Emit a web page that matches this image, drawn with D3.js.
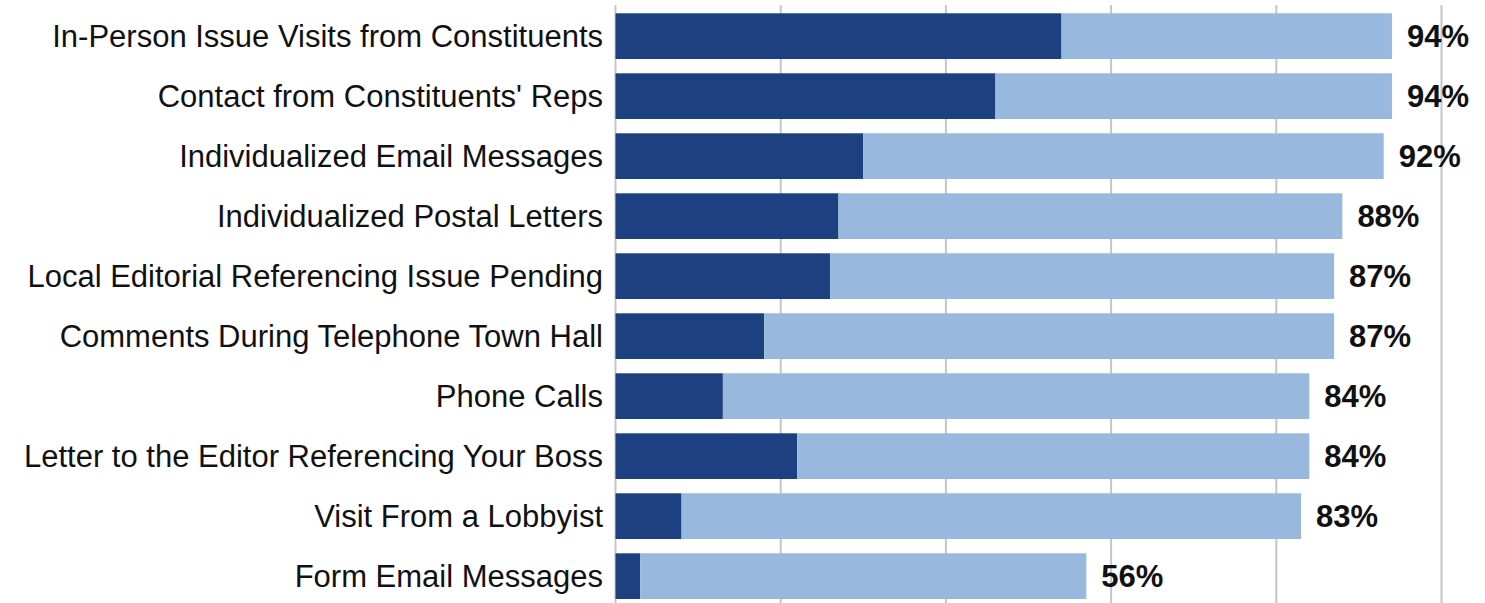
<html>
<head>
<script src="https://d3js.org/d3.v7.min.js"></script>
<style>
    body { margin: 0; background: #fff; }
    .cat { font-family: 'Liberation Sans', Arial, sans-serif; font-size: 31px; fill: #111; }
    .val { font-family: 'Liberation Sans', Arial, sans-serif; font-size: 31px; font-weight: bold; fill: #111; }
    .grid line { stroke: #c6c6c6; stroke-width: 2px; }
</style>
</head>
<body>
<svg id='the-chart' width=1485 height=603></svg>
<script>

    var categories = [
        'In-Person Issue Visits from Constituents',
        "Contact from Constituents' Reps",
        'Individualized Email Messages',
        'Individualized Postal Letters',
        'Local Editorial Referencing Issue Pending',
        'Comments During Telephone Town Hall',
        'Phone Calls',
        'Letter to the Editor Referencing Your Boss',
        'Visit From a Lobbyist',
        'Form Email Messages'
    ];
    // dark segment and light segment
    var veryPositive = [54, 46, 30, 27, 26, 18, 13, 22, 8, 3];
    var positive     = [40, 48, 63, 61, 61, 69, 71, 62, 75, 54];
    var totalLabels  = ['94%', '94%', '92%', '88%', '87%', '87%', '84%', '84%', '83%', '56%'];
    var gridTicks = [0, 20, 40, 60, 80, 100];

    var svg = d3.select('#the-chart');

    var xscale = d3.scaleLinear().domain([0, 100]).range([615.5, 1441.5]);
    var yscale = d3.scaleBand()
        .domain(categories)
        .range([6.15, 606.15])
        .paddingInner(0.238)
        .paddingOuter(0.119);

    // gridlines behind the bars
    svg.append('g').attr('class', 'grid')
        .selectAll('line').data(gridTicks).enter().append('line')
        .attr('x1', function(d) { return xscale(d); })
        .attr('x2', function(d) { return xscale(d); })
        .attr('y1', 5)
        .attr('y2', 603);

    var rows = svg.append('g').selectAll('g').data(categories).enter().append('g');

    rows.append('rect')
        .attr('x', xscale(0))
        .attr('y', function(d) { return yscale(d); })
        .attr('height', yscale.bandwidth())
        .attr('width', function(d, i) { return xscale(veryPositive[i]) - xscale(0); })
        .attr('fill', '#1d4180');

    rows.append('rect')
        .attr('x', function(d, i) { return xscale(veryPositive[i]); })
        .attr('y', function(d) { return yscale(d); })
        .attr('height', yscale.bandwidth())
        .attr('width', function(d, i) { return xscale(positive[i]) - xscale(0); })
        .attr('fill', '#98b8de');

    rows.append('text')
        .attr('class', 'cat')
        .attr('x', 603)
        .attr('y', function(d) { return yscale(d) + yscale.bandwidth() / 2; })
        .attr('dy', '0.36em')
        .attr('text-anchor', 'end')
        .text(function(d) { return d; });

    rows.append('text')
        .attr('class', 'val')
        .attr('x', function(d, i) { return xscale(veryPositive[i] + positive[i]) + 15; })
        .attr('y', function(d) { return yscale(d) + yscale.bandwidth() / 2; })
        .attr('dy', '0.36em')
        .text(function(d, i) { return totalLabels[i]; });

</script>
</body>
</html>
